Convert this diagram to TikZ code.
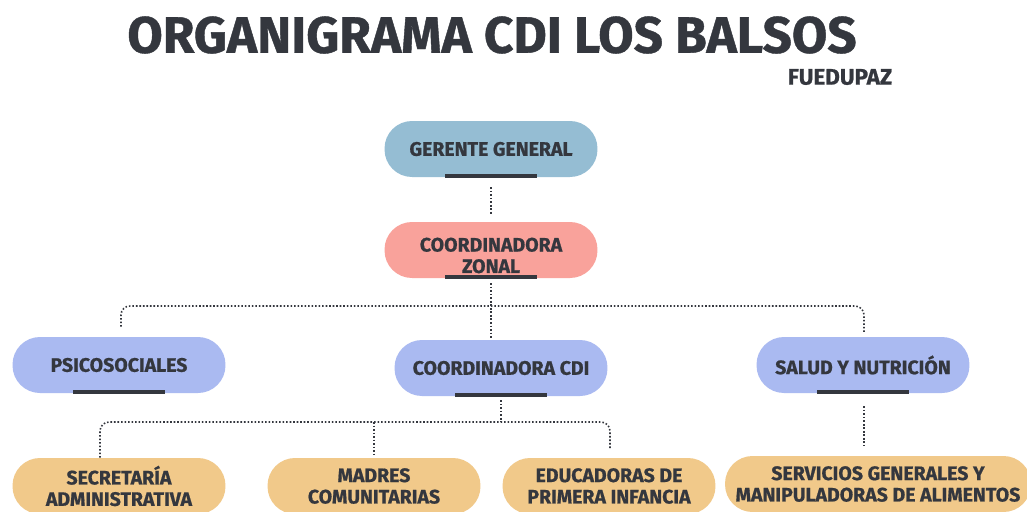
\documentclass[tikz,border=0pt]{standalone}
\usepackage{fontspec}
\setmainfont{Fira Sans}[BoldFeatures={FakeBold=0.8}]
\definecolor{ink}{HTML}{34373E}
\definecolor{gerblue}{HTML}{95BDD3}
\definecolor{salmon}{HTML}{F9A29B}
\definecolor{lilac}{HTML}{AABAF1}
\definecolor{sand}{HTML}{F1C98A}
\begin{document}
\begin{tikzpicture}[x=0.02cm, y=-0.02cm,
    pill/.style={rectangle, rounded corners=0.55cm, minimum width=4.26cm, minimum height=1.12cm,
      align=center, text=ink, inner sep=2pt, font=\fontsize{11.1}{12.2}\selectfont\bfseries},
    pilltext/.style={align=center, text=ink, font=\fontsize{11.1}{12.2}\selectfont\bfseries},
    link/.style={ink, line width=0.9pt, dash pattern=on 0.9pt off 1.1pt},
    bar/.style={ink, line width=2.4pt}]
    \clip (0,0) rectangle (1027,511);
    \fill[white] (0,0) rectangle (1027,511);

    \node[text=ink, font=\fontsize{29.2}{29.2}\selectfont\bfseries] (title) at (492,35) {ORGANIGRAMA CDI LOS BALSOS};
    \node[text=ink, font=\fontsize{12.8}{12.8}\selectfont\bfseries] (fund) at (840,77) {FUEDUPAZ};

    \node[pill, fill=gerblue] (gerente) at (491,149) {GERENTE GENERAL};
    \node[pill, fill=salmon,
      label={[pilltext, yshift=-0.11cm]center:COORDINADORA\\ZONAL}] (zonal) at (491,250) {};

    \node[pill, fill=lilac] (psico) at (119,365) {PSICOSOCIALES};
    \node[pill, fill=lilac] (cdi) at (501,368) {COORDINADORA CDI};
    \node[pill, fill=lilac] (salud) at (863,365) {SALUD Y NUTRICIÓN};

    \node[pill, fill=sand] (secre) at (119,486) {SECRETARÍA\\ADMINISTRATIVA};
    \node[pill, fill=sand] (madres) at (374,486) {MADRES\\COMUNITARIAS};
    \node[pill, fill=sand] (educ) at (609,486) {EDUCADORAS DE\\PRIMERA INFANCIA};
    \node[pill, fill=sand, minimum width=6.12cm] (serv) at (878,484) {SERVICIOS GENERALES Y\\MANIPULADORAS DE ALIMENTOS};

    \foreach \n in {gerente,zonal,psico,cdi,salud}
        \draw[bar] ([xshift=-0.92cm,yshift=0.03cm]\n.south) -- ([xshift=0.92cm,yshift=0.03cm]\n.south);

    \coordinate (bus1) at (491,306);
    \coordinate (bus2) at (501,422);

    \draw[link, shorten <=0.2cm, shorten >=0.16cm] (gerente.south) -- (zonal.north);
    \draw[link, shorten <=0.1cm, shorten >=0.04cm] (zonal.south) -- (zonal.south |- cdi.north);
    \draw[link, rounded corners=0.18cm, shorten <=0.2cm, shorten >=0.08cm]
        ([xshift=0.04cm]psico.north) |- (bus1) -| ([xshift=0.02cm]salud.north);
    \draw[link, shorten <=0.08cm] (cdi.south) -- (bus2);
    \draw[link, rounded corners=0.18cm, shorten >=0.16cm]
        ([xshift=-0.38cm]secre.north) |- (bus2) -| ([xshift=0.02cm]educ.north);
    \draw[link, shorten >=0.06cm] (madres.north |- bus2) -- (madres.north);
    \draw[link, shorten <=0.26cm, shorten >=0.2cm] ([xshift=0.02cm]salud.south) -- ([xshift=0.02cm]salud.south |- serv.north);
\end{tikzpicture}
\end{document}
